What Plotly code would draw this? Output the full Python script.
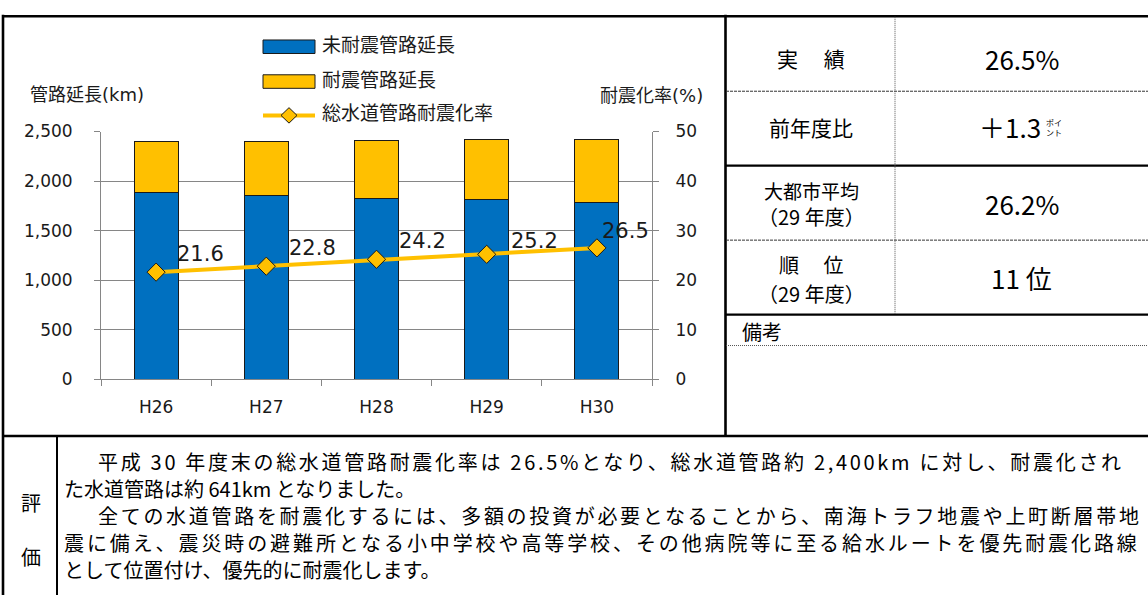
import plotly.graph_objects as go

W, H = 1148, 605

# ---------------- data ----------------
categories = ["H26", "H27", "H28", "H29", "H30"]
non_seismic_km = [1881, 1853, 1826, 1809, 1781]   # 未耐震管路延長
seismic_km = [518, 547, 583, 609, 641]            # 耐震管路延長
seismic_rate = [21.6, 22.8, 24.2, 25.2, 26.5]     # 総水道管路耐震化率 (%)
left_tickvals = [0, 500, 1000, 1500, 2000, 2500]
right_tickvals = [0, 10, 20, 30, 40, 50]

series_names = ["未耐震管路延長", "耐震管路延長", "総水道管路耐震化率"]

table_labels = [["実　 績"], ["前年度比"], ["大都市平均", "（29 年度）"], ["順　 位", "（29 年度）"]]
table_values = ["26.5%", "＋1.3", "26.2%", "11 位"]
point_unit = "ポイ<br>ント"
remark_label = "備考"
eval_label = ["評", "価"]
eval_lines = [
    "平成 30 年度末の総水道管路耐震化率は 26.5%となり、総水道管路約 2,400km に対し、耐震化され",
    "た水道管路は約 641km となりました。",
    "全ての水道管路を耐震化するには、多額の投資が必要となることから、南海トラフ地震や上町断層帯地",
    "震に備え、震災時の避難所となる小中学校や高等学校、その他病院等に至る給水ルートを優先耐震化路線",
    "として位置付け、優先的に耐震化します。",
]

# ---------------- styling ----------------
BLUE = "#0070C0"
GOLD = "#FFC000"
AX = "#868686"
TXT = "#1a1a1a"
LATIN = "DejaVu Sans, Noto Sans CJK JP"
JP = "Noto Sans CJK JP"


def X(p):
    return p / W


def Y(p):
    return 1 - p / H


fig = go.Figure()
fig.add_bar(x=categories, y=non_seismic_km, name=series_names[0], width=0.4,
            marker=dict(color=BLUE, line=dict(color="#1a1a1a", width=1)))
fig.add_bar(x=categories, y=seismic_km, name=series_names[1], width=0.4,
            marker=dict(color=GOLD, line=dict(color="#1a1a1a", width=1)))
fig.add_scatter(x=categories, y=seismic_rate, yaxis="y2", name=series_names[2],
                mode="lines+markers",
                line=dict(color=GOLD, width=4),
                marker=dict(symbol="diamond", size=14, color=GOLD,
                            line=dict(color="#1a1a1a", width=1)))

annotations = []
# data labels
label_dx = [44, 46, 46, 48, 29]
label_dy = [18, 18, 18, 13, 17]
for c, v, dx, dy in zip(categories, seismic_rate, label_dx, label_dy):
    annotations.append(dict(x=c, y=v, xref="x", yref="y2", text=f"{v:.1f}",
                            showarrow=False, xshift=dx, yshift=dy,
                            font=dict(family=LATIN, size=21, color=TXT)))

# axis titles
annotations.append(dict(x=X(28), y=Y(87), xref="paper", yref="paper", text="管路延長(km)",
                        xanchor="left", yanchor="middle", showarrow=False,
                        font=dict(family=LATIN, size=18, color=TXT)))
annotations.append(dict(x=X(705), y=Y(88), xref="paper", yref="paper", text="耐震化率(%)",
                        xanchor="right", yanchor="middle", showarrow=False,
                        font=dict(family=LATIN, size=18, color=TXT)))

shapes = []
# manual legend
leg_y = [38, 74, 109]
shapes.append(dict(type="rect", xref="paper", yref="paper", x0=X(263), x1=X(315),
                   y0=Y(leg_y[0] - 7), y1=Y(leg_y[0] + 7), fillcolor=BLUE,
                   line=dict(color="#1a1a1a", width=1)))
shapes.append(dict(type="rect", xref="paper", yref="paper", x0=X(263), x1=X(315),
                   y0=Y(leg_y[1] - 7), y1=Y(leg_y[1] + 7), fillcolor=GOLD,
                   line=dict(color="#1a1a1a", width=1)))
shapes.append(dict(type="line", xref="paper", yref="paper", x0=X(263), x1=X(315),
                   y0=Y(leg_y[2]), y1=Y(leg_y[2]), line=dict(color=GOLD, width=4)))
cx, cy, r = 289, leg_y[2], 8
shapes.append(dict(type="path", xref="paper", yref="paper",
                   path=f"M {X(cx - r)} {Y(cy)} L {X(cx)} {Y(cy - r)} L {X(cx + r)} {Y(cy)} L {X(cx)} {Y(cy + r)} Z",
                   fillcolor=GOLD, line=dict(color="#1a1a1a", width=1)))
for name, ly in zip(series_names, leg_y):
    annotations.append(dict(x=X(320), y=Y(ly - 2), xref="paper", yref="paper", text=name,
                            xanchor="left", yanchor="middle", showarrow=False,
                            font=dict(family=LATIN, size=19, color=TXT)))


# ---------------- frame / table lines ----------------
def hline(y, x0, x1, width=1.0, dash="solid", color="#000"):
    shapes.append(dict(type="line", xref="paper", yref="paper", x0=X(x0), x1=X(x1),
                       y0=Y(y), y1=Y(y), line=dict(color=color, width=width, dash=dash)))


def vline(x, y0, y1, width=1.0, dash="solid", color="#000"):
    shapes.append(dict(type="line", xref="paper", yref="paper", x0=X(x), x1=X(x),
                       y0=Y(y0), y1=Y(y1), line=dict(color=color, width=width, dash=dash)))


hline(6.5, 2, W, 2.6)          # top border
vline(3, 5, H, 2.6)            # left border
vline(725.5, 5, 441, 2.6)      # chart | table
hline(440.5, 2, W, 2.6)        # chart | evaluation
vline(57, 440, H, 2.0)         # 評価 column
hline(84, 726, W, 1, "3px,1px", "#333")
hline(161, 726, W, 2.2)
hline(238, 726, W, 1, "3px,1px", "#333")
hline(315, 726, W, 2.2)
hline(347, 726, W, 1, "1px,1px", "#555")
vline(895, 7, 315, 1, "1px,1px", "#555")

# table texts
lab_cx, val_cx = 811, 1021.5
row_cy = [50, 121, 200, 277]
for lines, cyr in zip(table_labels, row_cy):
    if len(lines) == 1:
        offs = [0]
    else:
        offs = [-13, 14] if cyr < 250 else [-14, 16]
    for t, o in zip(lines, offs):
        sz = 21 if len(lines) == 1 else (19 if o < 0 and cyr < 250 else 20)
        annotations.append(dict(x=X(lab_cx), y=Y(cyr + o), xref="paper", yref="paper", text=t,
                                showarrow=False, xanchor="center", yanchor="middle",
                                font=dict(family=JP, size=sz, color="#000")))
for i, (v, cyr) in enumerate(zip(table_values, row_cy)):
    xc = val_cx - 12 if i == 1 else val_cx
    annotations.append(dict(x=X(xc), y=Y(cyr), xref="paper", yref="paper", text=v,
                            showarrow=False, xanchor="center", yanchor="middle",
                            font=dict(family=JP, size=26, color="#000")))
# small stacked ポイント
annotations.append(dict(x=X(1054), y=Y(122), xref="paper", yref="paper", text=point_unit,
                        showarrow=False, xanchor="center", yanchor="middle",
                        font=dict(family=JP, size=8, color="#000")))
annotations.append(dict(x=X(740), y=Y(333), xref="paper", yref="paper", text=remark_label,
                        showarrow=False, xanchor="left", yanchor="middle",
                        font=dict(family=JP, size=20, color="#000")))

# evaluation block
for t, yy in zip(eval_label, [509, 565]):
    annotations.append(dict(x=X(31), y=Y(yy), xref="paper", yref="paper", text=t,
                            showarrow=False, xanchor="center", yanchor="middle",
                            font=dict(family=JP, size=20, color="#000")))
line_x = [96, 62, 96, 62, 62]
line_y = [467, 495, 523, 551, 579]
line_sp = [2.7, 0, 2.7, 2.9, 0]
for t, lx, ly, sp in zip(eval_lines, line_x, line_y, line_sp):
    txt = f'<span style="letter-spacing:{sp}px">{t}</span>' if sp else t
    annotations.append(dict(x=X(lx), y=Y(ly), xref="paper", yref="paper", text=txt,
                            showarrow=False, xanchor="left", yanchor="middle",
                            font=dict(family=JP, size=20, color="#000")))

plot_x0, plot_x1 = 101, 652
plot_y0, plot_y1 = 381.7, 125.7

fig.update_layout(
    width=W, height=H, autosize=False,
    margin=dict(l=0, r=0, t=0, b=0),
    paper_bgcolor="white", plot_bgcolor="white",
    barmode="stack", bargap=0.6,
    showlegend=False,
    xaxis=dict(domain=[X(plot_x0), X(plot_x1)], type="category",
               tickson="boundaries", ticks="outside", ticklen=6, tickcolor=AX,
               showline=True, linecolor=AX, linewidth=1, showgrid=False,
               ticklabelstandoff=13,
               tickfont=dict(family=LATIN, size=17, color=TXT)),
    yaxis=dict(domain=[Y(plot_y0), Y(plot_y1)], range=[0, 2500],
               tickvals=left_tickvals, tickformat=",",
               ticks="outside", ticklen=6, tickcolor=AX,
               showline=True, linecolor=AX, linewidth=1,
               showgrid=True, gridcolor=AX, gridwidth=1, zeroline=False,
               ticklabelstandoff=18,
               tickfont=dict(family=LATIN, size=17, color=TXT)),
    yaxis2=dict(overlaying="y", side="right", range=[0, 50], tickvals=right_tickvals,
                ticks="outside", ticklen=6, tickcolor=AX,
                showline=True, linecolor=AX, linewidth=1,
                showgrid=False, zeroline=False,
                ticklabelstandoff=13,
                tickfont=dict(family=LATIN, size=17, color=TXT)),
    shapes=shapes,
    annotations=annotations,
)

fig.write_html("out.html", config=dict(displayModeBar=False))
